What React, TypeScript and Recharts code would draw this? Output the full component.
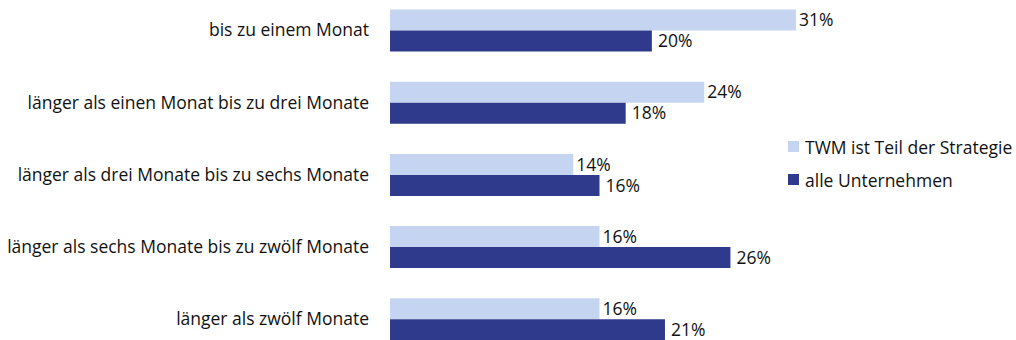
import React from 'react';
import { BarChart, Bar, XAxis, YAxis, LabelList } from 'recharts';

const categories = [
  'bis zu einem Monat',
  'länger als einen Monat bis zu drei Monate',
  'länger als drei Monate bis zu sechs Monate',
  'länger als sechs Monate bis zu zwölf Monate',
  'länger als zwölf Monate',
];
const twmValues = [31, 24, 14, 16, 16];
const alleValues = [20, 18, 16, 26, 21];
const seriesNames = ['TWM ist Teil der Strategie', 'alle Unternehmen'];
const colors = ['#c5d5f1', '#303a8c'];

const data = categories.map((c, i) => ({ name: c, twm: twmValues[i], alle: alleValues[i] }));

const FONT = '"Open Sans", "Noto Sans", sans-serif';
const FS = 17.5;

export default function App() {
  return (
    <div style={{ position: 'absolute', left: 0, top: 0, width: 1016, height: 340, overflow: 'hidden', background: '#fff' }}>
      <div style={{ position: 'absolute', left: 0, top: -6.5 }}>
        <BarChart
          width={1016}
          height={361}
          data={data}
          layout="vertical"
          margin={{ top: 0, right: 207, bottom: 0, left: 0 }}
          barCategoryGap={15.5}
          barGap={0}
        >
          <XAxis type="number" domain={[0, 32]} hide />
          <YAxis
            type="category"
            dataKey="name"
            width={390}
            axisLine={false}
            tickLine={false}
            tickSize={0}
            tickMargin={21}
            tick={{ fill: '#111', fontSize: FS, fontFamily: FONT }}
          />
          <Bar dataKey="twm" name={seriesNames[0]} fill={colors[0]} isAnimationActive={false}>
            <LabelList dataKey="twm" position="right" offset={3} formatter={(v: number) => `${v}%`} style={{ fill: '#111', fontSize: FS, fontFamily: FONT }} />
          </Bar>
          <Bar dataKey="alle" name={seriesNames[1]} fill={colors[1]} isAnimationActive={false}>
            <LabelList dataKey="alle" position="right" offset={6} formatter={(v: number) => `${v}%`} style={{ fill: '#111', fontSize: FS, fontFamily: FONT }} />
          </Bar>
        </BarChart>
      </div>
      <div style={{ position: 'absolute', left: 788, top: 130, fontFamily: FONT, fontSize: FS, color: '#111', whiteSpace: 'nowrap' }}>
        {seriesNames.map((n, i) => (
          <div key={n} style={{ display: 'flex', alignItems: 'center', height: 33 }}>
            <span style={{ display: 'inline-block', width: 11, height: 11, background: colors[i], marginRight: 6 }} />
            <span>{n}</span>
          </div>
        ))}
      </div>
    </div>
  );
}
